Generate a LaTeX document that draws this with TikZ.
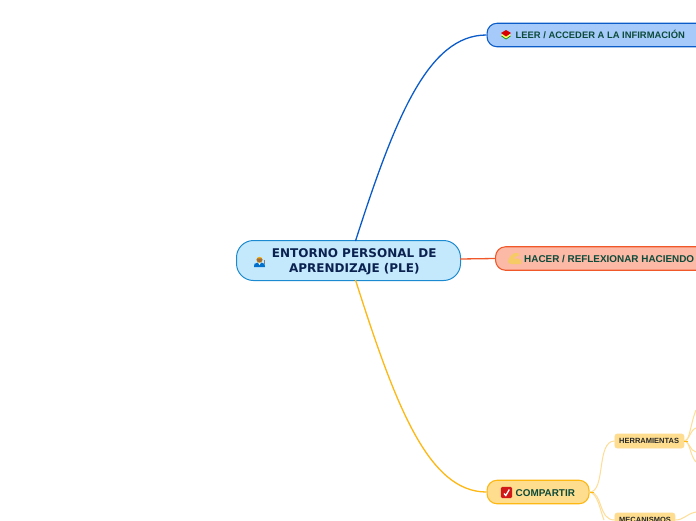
\documentclass[tikz,border=0pt]{standalone}
\usepackage{fontspec}
\setmainfont{Liberation Sans}
\newfontfamily\vera{DejaVu Sans}
\definecolor{cblue}{HTML}{0B5CC9}
\definecolor{cblueb}{HTML}{A6CBFB}
\definecolor{corg}{HTML}{F0582A}
\definecolor{corgb}{HTML}{FBB9A6}
\definecolor{cyel}{HTML}{FDB813}
\definecolor{cyelb}{HTML}{FEDD8F}
\definecolor{cyell}{HTML}{FEDD96}
\definecolor{cctr}{HTML}{C5E9FC}
\definecolor{cctrl}{HTML}{1B8AD0}
\definecolor{tdark}{HTML}{0C4A3A}
\definecolor{tnavy}{HTML}{0B2250}
\definecolor{armc}{HTML}{F6CB66}
\tikzset{
 x=1pt,y=-1pt,
 mainnode/.style={draw=cctrl,fill=cctr,line width=1pt,rounded corners=17pt},
 topic/.style={line width=1.1pt,rounded corners=10pt},
 subtopic/.style={fill=cyelb,draw=cyell,line width=.8pt,rounded corners=2.5pt},
 toplabel/.style={font=\bfseries\fontsize{9.9}{11}\selectfont,text=tdark,inner sep=0pt,anchor=west},
 sublabel/.style={font=\bfseries\fontsize{7.5}{9}\selectfont,text=black!85,inner sep=0pt,anchor=west},
 thin link/.style={draw=cyell,line width=1pt},
 main link/.style={line width=1.3pt},
}
\begin{document}
\begin{tikzpicture}
\path[use as bounding box] (0,0) rectangle (696,520);
\clip (0,0) rectangle (696,520);
\fill[white] (0,0) rectangle (696,520);
\coordinate (c1) at (355.5,241);
\coordinate (c2) at (460,259);
\coordinate (c3) at (355.5,280);
\coordinate (h1) at (696,410);\coordinate (h2) at (696,428);\coordinate (h3) at (696,452);\coordinate (h4) at (696,462);\coordinate (m1) at (696,512);
\coordinate (cb) at (604,520);
% nodes
\node[mainnode,minimum width=224pt,minimum height=40pt,inner sep=0pt] (ctr) at (348.5,260.5) {};
\node[font=\vera\bfseries\fontsize{12}{14.5}\selectfont,text=tnavy,align=center,inner sep=0pt] (ctrtext) at (354.3,261.7) {ENTORNO PERSONAL DE\\APRENDIZAJE (PLE)};
\node[topic,draw=cblue,fill=cblueb,minimum width=240pt,minimum height=23.5pt,inner sep=0pt,anchor=west] (leer) at (486.5,35) {};
\node[toplabel] (leert) at (515.5,34.5) {\fontsize{9.4}{11}\selectfont LEER / ACCEDER A LA INFIRMACIÓN};
\node[topic,draw=corg,fill=corgb,minimum width=240pt,minimum height=23.5pt,inner sep=0pt,anchor=west] (hacer) at (495,258.5) {};
\node[toplabel] (hacert) at (524,259.2) {HACER / REFLEXIONAR HACIENDO};
\node[topic,draw=cyel,fill=cyelb,minimum width=102pt,minimum height=23.5pt,inner sep=0pt,anchor=west] (comp) at (486.5,492) {};
\node[toplabel] (compt) at (515.5,493) {COMPARTIR};
\node[subtopic,minimum width=69pt,minimum height=14pt,inner sep=0pt,anchor=west] (herr) at (614.5,441) {};
\node[sublabel] (herrt) at (619,441.3) {HERRAMIENTAS};
\node[subtopic,minimum width=60pt,minimum height=14pt,inner sep=0pt,anchor=west] (meca) at (614.5,520) {};
\node[sublabel] (mecat) at (619,520.3) {MECANISMOS};
% connectors
\draw[cblue,main link] (c1) .. controls (395,118) and (428,35) .. (leer.west);
\draw[corg,main link] (c2) -- (hacer.west);
\draw[cyel,main link] (c3) .. controls (395,404) and (428,492) .. (comp.west);
\draw[thin link] (comp.east) .. controls (606,492) and (596,441) .. (herr.west);
\draw[thin link] (comp.east) .. controls (603,492) and (598,520) .. (meca.west);
\draw[thin link] (comp.east) .. controls (598,494) and (600,510) .. (cb);
\draw[cyel,line width=1pt] (comp.east) -- ++(4,0);
\draw[thin link] (herr.east) .. controls (690,441) and (690,425) .. (h1);
\draw[thin link] (herr.east) .. controls (689,441) and (690,430) .. (h2);
\draw[thin link] (herr.east) .. controls (689,441) and (690,451) .. (h3);
\draw[thin link] (herr.east) .. controls (690,441) and (690,456) .. (h4);
\draw[cyel,line width=1pt] (herr.east) -- ++(4,0);
\draw[thin link] (meca.east) .. controls (684,520) and (686,514) .. (m1);
% icons
\begin{scope}[shift={(259.5,261)}]
\fill[blue!45!cyan!80!black] (-5.5,6) -- (-5,2.8) -- (-1.5,1.5) -- (1.5,1.5) -- (5,2.8) -- (5.5,6) -- cycle;
\fill[white] (-1.5,1.5) -- (0,4) -- (1.5,1.5) -- cycle;
\fill[orange!60!yellow!90!brown] (0,-1.2) circle (3);
\fill[brown!85!black] (-3,-1.6) arc (180:0:3 and 3) -- (2.2,-2.6) -- (-2.2,-2.6) -- cycle;
\draw[black!50,line width=.5pt] (4.3,3) -- (4.3,-1);
\end{scope}
\begin{scope}[shift={(506,34.5)}]
\fill[green!55!black] (-5,1.5) -- (0,-.5) -- (5,1.5) -- (0,5) -- cycle;
\fill[yellow!60!white] (-5,.5) -- (0,-1.5) -- (5,.5) -- (0,4) -- cycle;
\fill[red!85!black] (-5,-1.5) -- (0,-4.5) -- (5,-1.5) -- (0,2) -- cycle;
\end{scope}
\begin{scope}[shift={(514.5,258.5)}]
\fill[armc] (-6.5,3) .. controls (-5.5,-1) and (-3,-4.5) .. (.5,-5.5) -- (4,-5.5) -- (4.5,-2.5) -- (1,-2) -- (-.5,.5) .. controls (2,-.5) and (5,-.5) .. (6.5,1.5) -- (6.5,5.5) -- (-3,5.5) .. controls (-5,5.5) and (-6.5,4.5) .. (-6.5,3) -- cycle;
\end{scope}
\begin{scope}[shift={(506.5,492.5)}]
\fill[red!80!black!90,rounded corners=1.5pt] (-5.7,-5.7) rectangle (5.7,5.7);
\draw[white,line width=1.3pt] (-2.5,1) -- (-.7,3) -- (2.8,-3);
\end{scope}
\end{tikzpicture}
\end{document}
